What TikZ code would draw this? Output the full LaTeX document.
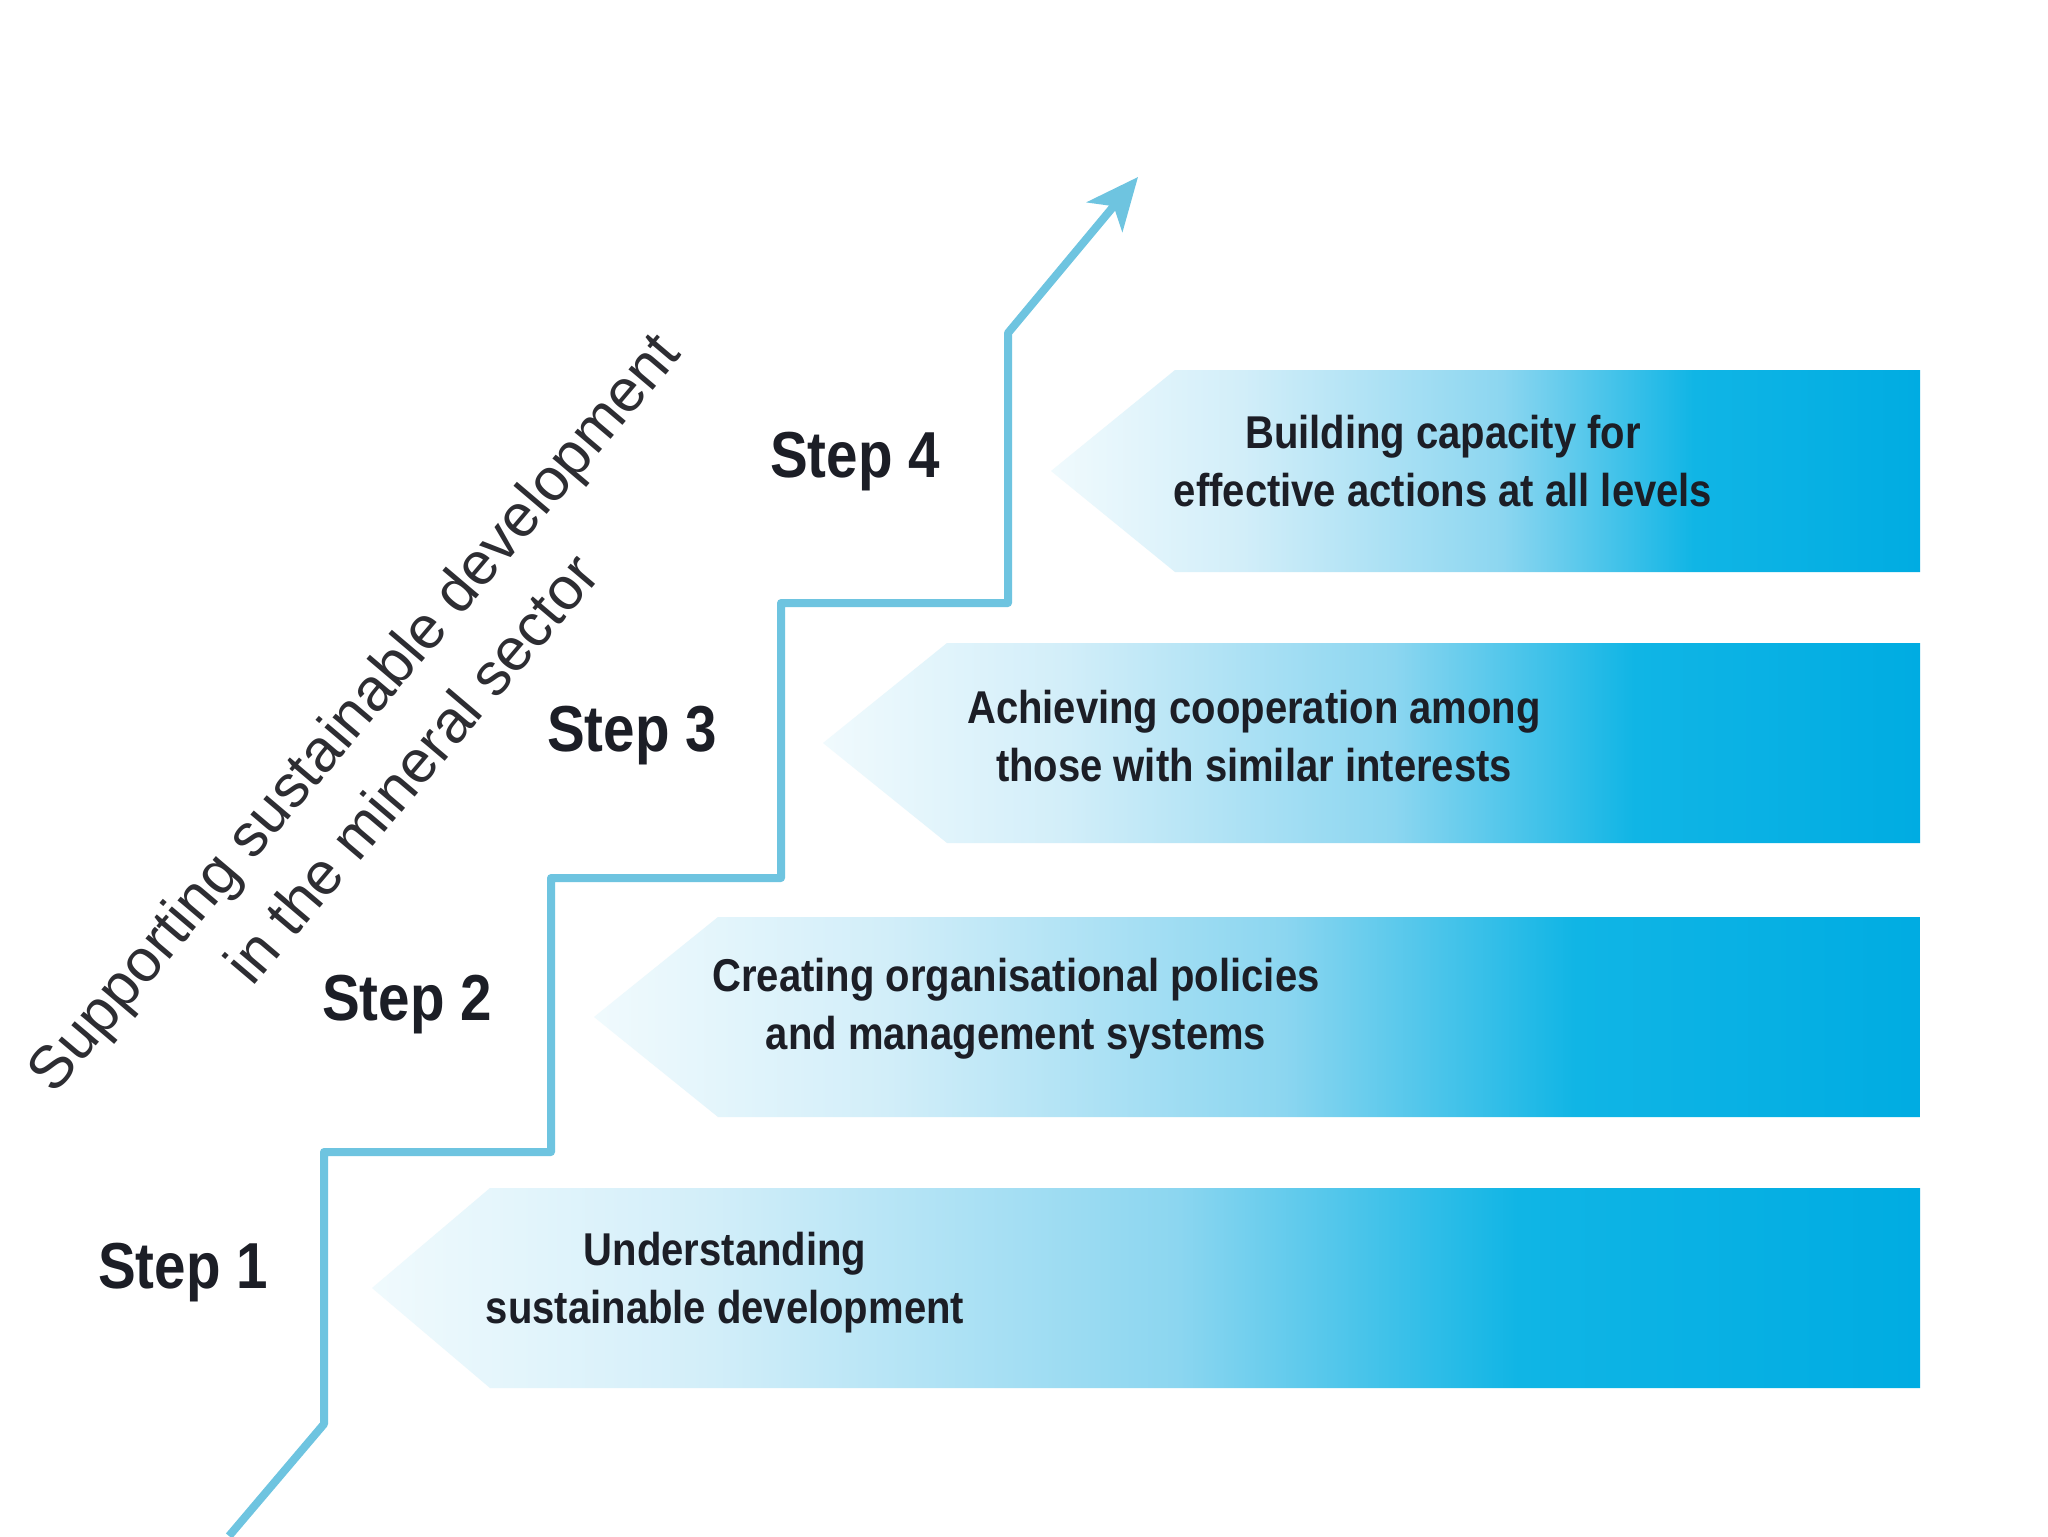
\documentclass[tikz,border=0pt]{standalone}
\usepackage{fontspec}
\setmainfont{Liberation Sans}
\newfontfamily\condfont[FakeStretch=0.87]{Liberation Sans}
\usetikzlibrary{arrows.meta}
\definecolor{linec}{RGB}{110,196,224}
\definecolor{bcz}{RGB}{240,250,253}
\definecolor{bca}{RGB}{210,238,249}
\definecolor{bcb}{RGB}{140,214,240}
\definecolor{bcc}{RGB}{16,181,229}
\definecolor{bcd}{RGB}{0,172,226}
\definecolor{txt}{RGB}{28,30,38}
\definecolor{titletxt}{RGB}{45,45,50}
\pgfdeclarehorizontalshading{bannershade}{100bp}{color(0bp)=(bcz); color(25bp)=(bcz); color(36bp)=(bca); color(51bp)=(bcb); color(62bp)=(bcc); color(75bp)=(bcd); color(100bp)=(bcd)}
\tikzset{
  banner/.style={shading=bannershade},
  steplabel/.style={font=\condfont\bfseries\fontsize{32.5}{36}\selectfont, text=txt},
  bannertext/.style={font=\condfont\bfseries\fontsize{23}{29}\selectfont, align=center, text=txt},
  titleline/.style={rotate=49.7, font=\fontsize{30}{36}\selectfont, text=titletxt, inner sep=0pt},
  stair/.style={draw=linec, line width=4pt, line join=round, -{Stealth[length=26pt,width=23pt,inset=7pt]}},
}
\begin{document}
\begin{tikzpicture}[x=0.5pt,y=-0.5pt]
\useasboundingbox (0,0) rectangle (2048,1536);
\fill[white] (0,0) rectangle (2048,1536);

% banners
\shade[banner] (1051,471) -- (1175,370) -- (1920,370) -- (1920,572) -- (1175,572) -- cycle;
\shade[banner] (823,743) -- (947,643) -- (1920,643) -- (1920,843) -- (947,843) -- cycle;
\shade[banner] (594,1017) -- (718,917) -- (1920,917) -- (1920,1117) -- (718,1117) -- cycle;
\shade[banner] (372,1288) -- (490,1188) -- (1920,1188) -- (1920,1388) -- (490,1388) -- cycle;

% banner texts
\node[bannertext] (b4) at (1443,461) {Building capacity for\\effective actions at all levels};
\node[bannertext] (b3) at (1254,736) {Achieving cooperation among\\those with similar interests};
\node[bannertext] (b2) at (1016,1009) {Creating organisational policies\\and management systems};
\node[bannertext] (b1) at (725,1283) {Understanding\\sustainable development};

% stair path
\coordinate (p0) at (229,1536);
\coordinate (p1) at (324,1424);
\coordinate (p2) at (324,1152);
\coordinate (p3) at (551,1152);
\coordinate (p4) at (551,878);
\coordinate (p5) at (781,878);
\coordinate (p6) at (781,603);
\coordinate (p7) at (1008,603);
\coordinate (p8) at (1008,333);
\coordinate (p9) at (1138,177);
\draw[stair] (p0) -- (p1) -- (p2) -- (p3) -- (p4) -- (p5) -- (p6) -- (p7) -- (p8) -- (p9);

% step labels
\node[steplabel] (s4) at (855,462) {Step 4};
\node[steplabel] (s3) at (632,736) {Step 3};
\node[steplabel] (s2) at (407,1005) {Step 2};
\node[steplabel] (s1) at (183,1273) {Step 1};

% rotated title
\node[titleline] (title1) at (357,715) {Supporting sustainable development};
\node[titleline] (title2) at (411,768) {in the mineral sector};
\end{tikzpicture}
\end{document}
